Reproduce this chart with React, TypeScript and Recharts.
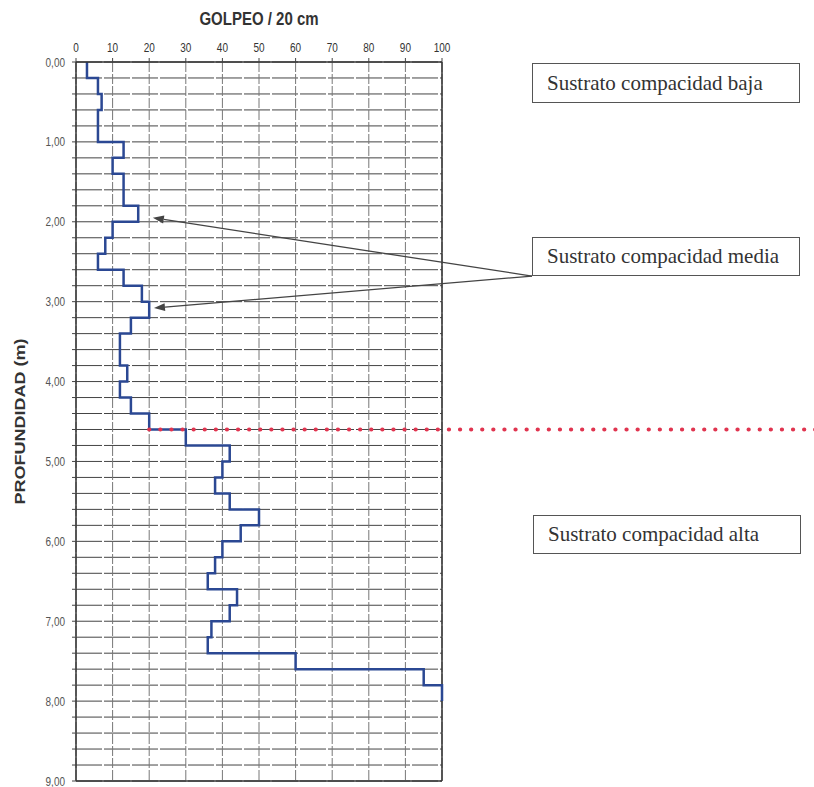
import { CartesianGrid, Line, LineChart, ReferenceLine, XAxis, YAxis } from 'recharts';

// top of each 0.20 m interval (m)
const depthTop = [
    0, 0.2, 0.4, 0.6, 0.8, 1.0, 1.2, 1.4, 1.6, 1.8,
    2.0, 2.2, 2.4, 2.6, 2.8, 3.0, 3.2, 3.4, 3.6, 3.8,
    4.0, 4.2, 4.4, 4.6, 4.8, 5.0, 5.2, 5.4, 5.6, 5.8,
    6.0, 6.2, 6.4, 6.6, 6.8, 7.0, 7.2, 7.4, 7.6, 7.8,
];
// golpeo / 20 cm for each interval
const golpeo = [
    3, 6, 7, 6, 6, 13, 10, 13, 13, 17,
    10, 8, 6, 13, 18, 20, 15, 12, 12, 14,
    12, 15, 20, 30, 42, 40, 38, 42, 50, 45,
    40, 38, 36, 44, 42, 37, 36, 60, 95, 100,
];
const golpeoTicks = [0, 10, 20, 30, 40, 50, 60, 70, 80, 90, 100];
const depthTicks = Array.from({ length: 46 }, (_, i) => Math.round(i * 2) / 10);
const boundaryDepth = 4.6;
const layerLabels = ['Sustrato compacidad baja', 'Sustrato compacidad media', 'Sustrato compacidad alta'];
const arrowFrom = { x: 124.6, y: 2.68 };
const arrowTips = [
    { x: 21, y: 1.95 },
    { x: 21.3, y: 3.08 },
];

const stepData = depthTop.flatMap((d, i) => [
    { depth: d, golpeo: golpeo[i] },
    { depth: Math.round((d + 0.2) * 10) / 10, golpeo: golpeo[i] },
]);

const SANS = '"Liberation Sans", Arial, sans-serif';
const SERIF = '"Liberation Serif", "Times New Roman", serif';

const GolpeoTick = ({ x, y, payload }: any) => (
    <g transform={`translate(${x},${y}) scale(1,1.25)`}>
        <text x={0} y={0} textAnchor="middle" fontSize={10} fill="#333" fontFamily={SANS}>
            {payload.value}
        </text>
    </g>
);

const DepthTick = ({ x, y, payload }: any) => {
    const v = Math.round(payload.value * 10) / 10;
    if (!Number.isInteger(v)) return null;
    return (
        <g transform={`translate(${x},${y}) scale(1,1.25)`}>
            <text x={0} y={0} dy="0.36em" textAnchor="end" fontSize={10} fill="#555" fontFamily={SANS}>
                {v.toFixed(2).replace('.', ',')}
            </text>
        </g>
    );
};

const TitleLabel = (props: any) => {
    const vb = props.viewBox || { x: 76, y: 30, width: 366 };
    const cx = vb.x + vb.width / 2;
    return (
        <g transform={`translate(${cx},${vb.y - 5}) scale(1,1.25)`}>
            <text x={0} y={0} textAnchor="middle" fontSize={15} fontWeight="bold" fill="#333" fontFamily={SANS}>
                GOLPEO / 20 cm
            </text>
        </g>
    );
};

const DepthLabel = (props: any) => {
    const vb = props.viewBox || { x: 0, y: 62, height: 719 };
    const cy = vb.y + vb.height / 2;
    return (
        <g transform={`translate(${vb.x + 20},${cy}) rotate(-90) scale(1.2,1)`}>
            <text x={0} y={0} dy="0.36em" textAnchor="middle" fontSize={15} fontWeight="bold" fill="#333" fontFamily={SANS}>
                PROFUNDIDAD (m)
            </text>
        </g>
    );
};

const Arrow = ({ x1, y1, x2, y2 }: any) => {
    const a = Math.atan2(y2 - y1, x2 - x1);
    const len = 11;
    const half = 4;
    const bx = x2 - len * Math.cos(a);
    const by = y2 - len * Math.sin(a);
    const px = -Math.sin(a) * half;
    const py = Math.cos(a) * half;
    return (
        <g>
            <line x1={x1} y1={y1} x2={bx} y2={by} stroke="#444" strokeWidth={1.3} />
            <polygon points={`${x2},${y2} ${bx + px},${by + py} ${bx - px},${by - py}`} fill="#444" />
        </g>
    );
};

const DottedRed = ({ x1, y1, x2, y2 }: any) => (
    <line
        x1={x1}
        y1={y1}
        x2={x2}
        y2={y2}
        stroke="#e0344f"
        strokeWidth={4.2}
        strokeDasharray="0.1 11"
        strokeLinecap="round"
    />
);

const boxStyle = (top: number, height: number): React.CSSProperties => ({
    position: 'absolute',
    left: 532,
    top,
    width: 268,
    height,
    border: '1.5px solid #555',
    boxSizing: 'border-box',
    background: '#fff',
    display: 'flex',
    alignItems: 'center',
    paddingLeft: 14,
    fontFamily: SERIF,
    fontSize: 21,
    color: '#333',
    whiteSpace: 'nowrap',
});

export default function App() {
    return (
        <div style={{ position: 'absolute', left: 0, top: 0, width: 814, height: 787, background: '#fff' }}>
            <LineChart
                width={814}
                height={787}
                data={stepData}
                layout="vertical"
                margin={{ top: 30, right: 372, bottom: 6, left: 0 }}
            >
                <CartesianGrid horizontal vertical={false} stroke="#444" strokeDasharray="26 2" />
                <CartesianGrid horizontal={false} vertical stroke="#777" strokeDasharray="10 2" />
                <XAxis
                    type="number"
                    orientation="top"
                    domain={[0, 100]}
                    ticks={golpeoTicks}
                    interval={0}
                    height={32}
                    tick={<GolpeoTick />}
                    tickSize={4}
                    tickMargin={6}
                    axisLine={{ stroke: '#333', strokeWidth: 1.5 }}
                    tickLine={{ stroke: '#444' }}
                    label={<TitleLabel />}
                />
                <YAxis
                    type="number"
                    dataKey="depth"
                    domain={[0, 9]}
                    ticks={depthTicks}
                    interval={0}
                    width={76}
                    tick={<DepthTick />}
                    tickSize={4}
                    tickMargin={7}
                    axisLine={{ stroke: '#333', strokeWidth: 1.5 }}
                    tickLine={{ stroke: '#444' }}
                    label={<DepthLabel />}
                />
                <ReferenceLine x={100} stroke="#333" strokeWidth={1.5} />
                <ReferenceLine y={9} stroke="#333" strokeWidth={1.5} />
                <Line
                    dataKey="golpeo"
                    type="linear"
                    stroke="#2b4893"
                    strokeWidth={2.5}
                    dot={false}
                    activeDot={false}
                    isAnimationActive={false}
                />
                <ReferenceLine
                    segment={[
                        { x: 20, y: boundaryDepth },
                        { x: 205, y: boundaryDepth },
                    ]}
                    ifOverflow="visible"
                    shape={(p: any) => <DottedRed {...p} />}
                />
                {arrowTips.map((t, i) => (
                    <ReferenceLine
                        key={i}
                        segment={[arrowFrom, t]}
                        ifOverflow="visible"
                        shape={(p: any) => <Arrow {...p} />}
                    />
                ))}
            </LineChart>
            <div style={boxStyle(63, 40)}>{layerLabels[0]}</div>
            <div style={boxStyle(237, 39)}>{layerLabels[1]}</div>
            <div style={{ ...boxStyle(515, 39), left: 533 }}>{layerLabels[2]}</div>
        </div>
    );
}
